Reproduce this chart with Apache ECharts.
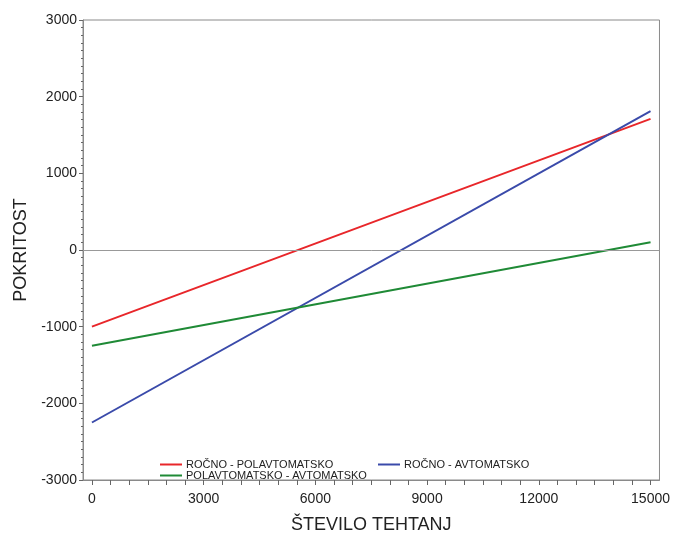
<!DOCTYPE html>
<html>
<head>
<meta charset="utf-8">
<script src="https://cdn.jsdelivr.net/npm/echarts@6/dist/echarts.min.js"></script>
<style>html,body{margin:0;padding:0;background:#fff;}#c{width:673px;height:539px;}</style>
</head>
<body>
<div id="c"></div>
<script>
// Data
const xValues = [0, 15000];
const rocnoPolavtomatsko = [-1000, 1710];
const rocnoAvtomatsko = [-2250, 1810];
const polavtomatskoAvtomatsko = [-1250, 100];
const seriesNames = ['ROČNO - POLAVTOMATSKO', 'ROČNO - AVTOMATSKO', 'POLAVTOMATSKO - AVTOMATSKO'];
const xTickLabels = [0, 3000, 6000, 9000, 12000, 15000];
const xMinorTicks = [0,500,1000,1500,2000,2500,3000,3500,4000,4500,5000,5500,6000,6500,7000,7500,8000,8500,9000,9500,10000,10500,11000,11500,12000,12500,13000,13500,14000,14500,15000];
const yTickLabels = [-3000, -2000, -1000, 0, 1000, 2000, 3000];

const toPairs = (ys) => xValues.map((x, i) => [x, ys[i]]);
const font = 'Liberation Sans, Arial, sans-serif';

const chart = echarts.init(document.getElementById('c'), null, {renderer: 'canvas'});
const legendBase = {
  icon: 'rect', itemWidth: 22, itemHeight: 2, itemGap: 4,
  textStyle: {fontFamily: font, fontSize: 11, color: '#222', padding: [0,0,0,-1]},
  padding: 0, selectedMode: false
};
chart.setOption({
  animation: false,
  backgroundColor: '#fff',
  grid: {left: 83, right: 11, top: 20, bottom: 53, show: true, borderColor: '#8a8a8a', borderWidth: 1, containLabel: false},
  legend: [
    Object.assign({}, legendBase, {data: [seriesNames[0]], left: 160, top: 459}),
    Object.assign({}, legendBase, {data: [seriesNames[1]], left: 378, top: 459}),
    Object.assign({}, legendBase, {data: [seriesNames[2]], left: 160, top: 470})
  ],
  xAxis: {
    type: 'value', min: -240, max: 15240,
    name: 'ŠTEVILO TEHTANJ', nameLocation: 'middle', nameGap: 36,
    nameTextStyle: {fontFamily: font, fontSize: 18, color: '#222'},
    axisLine: {show: true, onZero: false, lineStyle: {color: '#8a8a8a', width: 1}},
    axisTick: {show: true, inside: false, length: 5, customValues: xMinorTicks, lineStyle: {color: '#666'}},
    axisLabel: {show: true, margin: 12, customValues: xTickLabels, fontFamily: font, fontSize: 14, color: '#222', formatter: (v) => String(v)},
    splitLine: {show: false}
  },
  yAxis: {
    type: 'value', min: yTickLabels[0], max: yTickLabels[yTickLabels.length - 1], interval: 1000,
    name: 'POKRITOST', nameLocation: 'middle', nameGap: 52,
    nameTextStyle: {fontFamily: font, fontSize: 18, color: '#222'},
    axisLine: {show: true, onZero: false, lineStyle: {color: '#8a8a8a', width: 1}},
    axisTick: {show: true, length: 4, lineStyle: {color: '#666'}},
    minorTick: {show: true, splitNumber: 10, length: 2, lineStyle: {color: '#666'}},
    axisLabel: {margin: 6, fontFamily: font, fontSize: 14, color: '#222', formatter: (v) => String(v)},
    splitLine: {show: false}
  },
  series: [
    {name: seriesNames[0], type: 'line', data: toPairs(rocnoPolavtomatsko), showSymbol: false, color: '#e8262a', lineStyle: {width: 2},
     markLine: {silent: true, symbol: 'none', label: {show: false}, lineStyle: {color: '#999', width: 1, type: 'solid'}, data: [{yAxis: 0}]}},
    {name: seriesNames[1], type: 'line', data: toPairs(rocnoAvtomatsko), showSymbol: false, color: '#3a4aaa', lineStyle: {width: 2}},
    {name: seriesNames[2], type: 'line', data: toPairs(polavtomatskoAvtomatsko), showSymbol: false, color: '#1f8a36', lineStyle: {width: 2}}
  ]
});
</script>
</body>
</html>
